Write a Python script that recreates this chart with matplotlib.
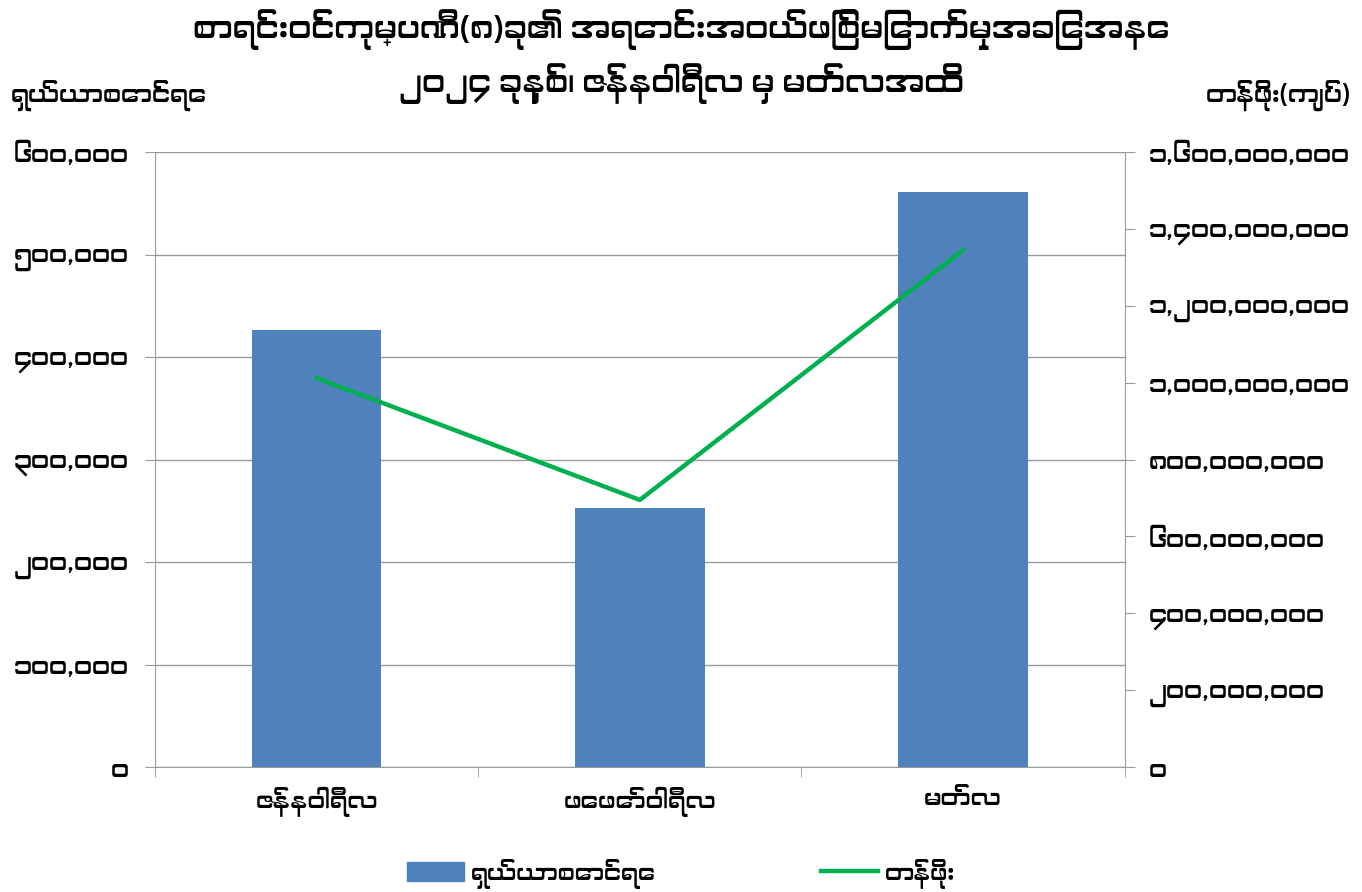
import numpy as np
import matplotlib.pyplot as plt
from matplotlib import font_manager
from matplotlib.lines import Line2D
from matplotlib.patches import Patch

## Data
months = ['ဇန်နဝါရီလ', 'ဖေဖော်ဝါရီလ', 'မတ်လ']
shares = [426000, 253000, 561000]
values = [1012000000, 695000000, 1345000000]

left_ticks = [0, 100000, 200000, 300000, 400000, 500000, 600000]
left_labels = ['၀', '၁၀၀,၀၀၀', '၂၀၀,၀၀၀', '၃၀၀,၀၀၀', '၄၀၀,၀၀၀', '၅၀၀,၀၀၀', '၆၀၀,၀၀၀']
right_ticks = [0, 2e8, 4e8, 6e8, 8e8, 1e9, 1.2e9, 1.4e9, 1.6e9]
right_labels = ['၀', '၂၀၀,၀၀၀,၀၀၀', '၄၀၀,၀၀၀,၀၀၀', '၆၀၀,၀၀၀,၀၀၀', '၈၀၀,၀၀၀,၀၀၀',
                '၁,၀၀၀,၀၀၀,၀၀၀', '၁,၂၀၀,၀၀၀,၀၀၀', '၁,၄၀၀,၀၀၀,၀၀၀', '၁,၆၀၀,၀၀၀,၀၀၀']

title = 'စာရင်းဝင်ကုမ္ပဏီ(၈)ခု၏ အရောင်းအဝယ်ဖြစ်မြောက်မှုအခြေအနေ\n၂၀၂၄ ခုနှစ်၊ ဇန်နဝါရီလ မှ မတ်လအထိ'
left_name = 'ရှယ်ယာစောင်ရေ'
right_name = 'တန်ဖိုး(ကျပ်)'
series_names = ['ရှယ်ယာစောင်ရေ', 'တန်ဖိုး']

## Pick a Myanmar font if one happens to be installed
fams = []
for f in font_manager.fontManager.ttflist:
    if ('Myanmar' in f.name or 'Padauk' in f.name) and f.name not in fams:
        fams.append(f.name)
plt.rcParams['font.family'] = fams + ['Noto Sans', 'DejaVu Sans']

bar_color = '#4F81BD'
line_color = '#00B050'
grid_color = '#9A9A9A'

fig = plt.figure(figsize=(13.62, 8.92), dpi=100)
ax = fig.add_axes([0.1138, 0.140, 0.712, 0.6896])
x = np.arange(len(months))

ax.bar(x, shares, width=0.4, color=bar_color, zorder=3)
ax.set_xlim(-0.5, 2.5)
ax.set_ylim(0, 600000)
ax.set_yticks(left_ticks)
ax.set_yticklabels(left_labels, fontsize=18)
ax.set_xticks(x)
ax.set_xticklabels(months, fontsize=17.5)
ax.tick_params(axis='x', length=0, pad=14)
ax.set_xticks([-0.5, 0.5, 1.5, 2.5], minor=True)
ax.tick_params(axis='x', which='minor', length=7, color=grid_color)
ax.tick_params(axis='y', length=7, color=grid_color, pad=12)
ax.grid(axis='y', color=grid_color, linewidth=1, zorder=0)
for s in ['top', 'right']:
    ax.spines[s].set_visible(False)
for s in ['left', 'bottom']:
    ax.spines[s].set_color(grid_color)

ax2 = ax.twinx()
ax2.plot(x, values, color=line_color, linewidth=3.2, zorder=4)
ax2.set_ylim(0, 1.6e9)
ax2.set_yticks(right_ticks)
ax2.set_yticklabels(right_labels, fontsize=18)
ax2.tick_params(axis='y', length=7, color=grid_color, pad=10)
for s in ['top', 'left', 'bottom']:
    ax2.spines[s].set_visible(False)
ax2.spines['right'].set_color(grid_color)

fig.text(0.5, 0.99, title, ha='center', va='top', fontsize=23, fontweight='bold', linespacing=1.45)
fig.text(0.008, 0.893, left_name, ha='left', va='center', fontsize=18, fontweight='bold')
fig.text(0.992, 0.893, right_name, ha='right', va='center', fontsize=18, fontweight='bold')

handles = [Patch(color=bar_color), Line2D([0], [0], color=line_color, linewidth=3.2)]
fig.legend(handles, series_names, loc='lower center', bbox_to_anchor=(0.5, -0.02), ncol=2,
           frameon=False, fontsize=17, columnspacing=7,
           handlelength=2.4, handleheight=0.9, handletextpad=0.3)

fig.savefig('out.png', dpi=100)
